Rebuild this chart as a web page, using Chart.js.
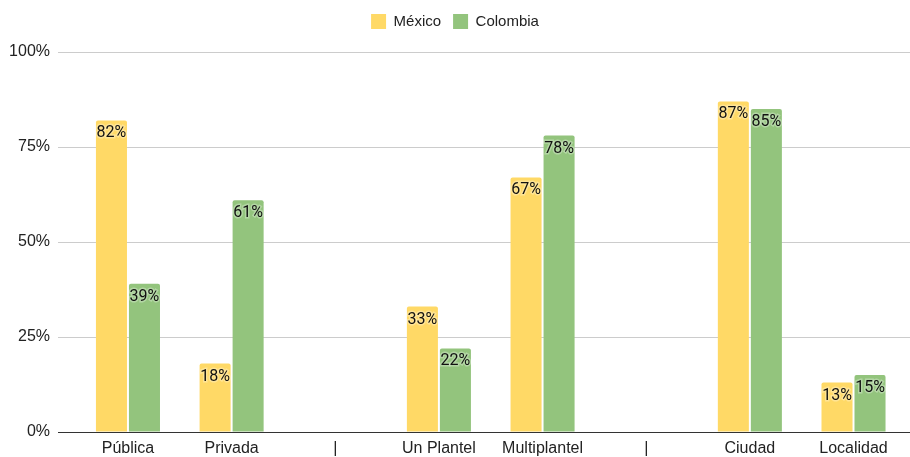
<!DOCTYPE html>
<html>
<head>
<meta charset="utf-8">
<script src="https://cdn.jsdelivr.net/npm/chart.js@4.4.1/dist/chart.umd.min.js"></script>
<style>
  html, body { margin: 0; padding: 0; background: #fff; }
  #wrap { width: 910px; height: 457px; }
</style>
</head>
<body>
<div id="wrap"><canvas id="bar_chart"></canvas></div>
<script>
const categories = ["Pública", "Privada", "|", "Un Plantel", "Multiplantel", "|", "Ciudad", "Localidad"];
const mexico   = [82, 18, null, 33, 67, null, 87, 13];
const colombia = [39, 61, null, 22, 78, null, 85, 15];
const yTicks = [0, 25, 50, 75, 100];

const toPoints = arr => arr.map((v, i) => ({ x: i, y: v }));
const axisFont = { family: 'Arial, "Liberation Sans", sans-serif', size: 16 };
const legendFont = { family: 'Arial, "Liberation Sans", sans-serif', size: 15 };

// value labels drawn just inside the top of each bar
const barLabels = {
  id: 'barLabels',
  afterDatasetsDraw(chart) {
    const ctx = chart.ctx;
    ctx.save();
    ctx.font = '16px Roboto, Arial, sans-serif';
    ctx.textAlign = 'center';
    ctx.textBaseline = 'middle';
    chart.data.datasets.forEach((ds, di) => {
      chart.getDatasetMeta(di).data.forEach((bar, i) => {
        const v = ds.data[i].y;
        if (v === null) return;
        const txt = v + '%';
        ctx.lineWidth = 3;
        ctx.strokeStyle = 'rgba(255,255,255,0.3)';
        ctx.strokeText(txt, bar.x, bar.y + 13);
        ctx.fillStyle = '#111';
        ctx.fillText(txt, bar.x, bar.y + 13);
      });
    });
    ctx.restore();
  }
};

// extra room under the legend
const legendGap = {
  id: 'legendGap',
  beforeInit(chart) {
    const fit = chart.legend.fit;
    chart.legend.fit = function () {
      fit.call(this);
      this.height += 13;
    };
  }
};

const config = {
  type: 'bar',
  data: {
    datasets: [{
      label: 'México',
      backgroundColor: '#FFD966',
      data: toPoints(mexico),
      borderRadius: { topLeft: 2, topRight: 2 },
      borderSkipped: 'bottom'
    }, {
      label: 'Colombia',
      backgroundColor: '#93C47D',
      data: toPoints(colombia),
      borderRadius: { topLeft: 2, topRight: 2 },
      borderSkipped: 'bottom'
    }]
  },
  options: {
    responsive: true,
    maintainAspectRatio: false,
    animation: false,
    barPercentage: 0.94,
    categoryPercentage: 0.637,
    layout: { padding: { top: 2, right: 0, bottom: 0, left: 0 } },
    plugins: {
      tooltip: { enabled: false },
      legend: {
        position: 'top',
        labels: {
          boxWidth: 15,
          boxHeight: 15,
          padding: 12,
          color: '#222',
          font: legendFont
        }
      }
    },
    scales: {
      x: {
        type: 'linear',
        min: -0.675,
        max: 7.545,
        offset: false,
        afterBuildTicks(scale) {
          scale.ticks = categories.map((c, i) => ({ value: i }));
        },
        ticks: {
          autoSkip: false,
          maxRotation: 0,
          padding: 7,
          color: '#222',
          font: axisFont,
          callback: v => categories[v]
        },
        grid: { display: false, drawTicks: false },
        border: { display: true, color: '#333', width: 1 },
        afterFit(scale) { scale.height = 25; }
      },
      y: {
        min: 0,
        max: 100,
        afterBuildTicks(scale) {
          scale.ticks = yTicks.map(v => ({ value: v }));
        },
        ticks: {
          padding: 8,
          color: '#222',
          font: axisFont,
          callback: v => v + '%'
        },
        grid: {
          color: ctx => ctx.tick && ctx.tick.value === 0 ? '#333' : '#cccccc',
          drawTicks: false
        },
        border: { display: false },
        afterFit(scale) { scale.width = 58; }
      }
    }
  },
  plugins: [barLabels, legendGap]
};

const bar_chart = new Chart(document.getElementById('bar_chart'), config);
</script>
</body>
</html>
